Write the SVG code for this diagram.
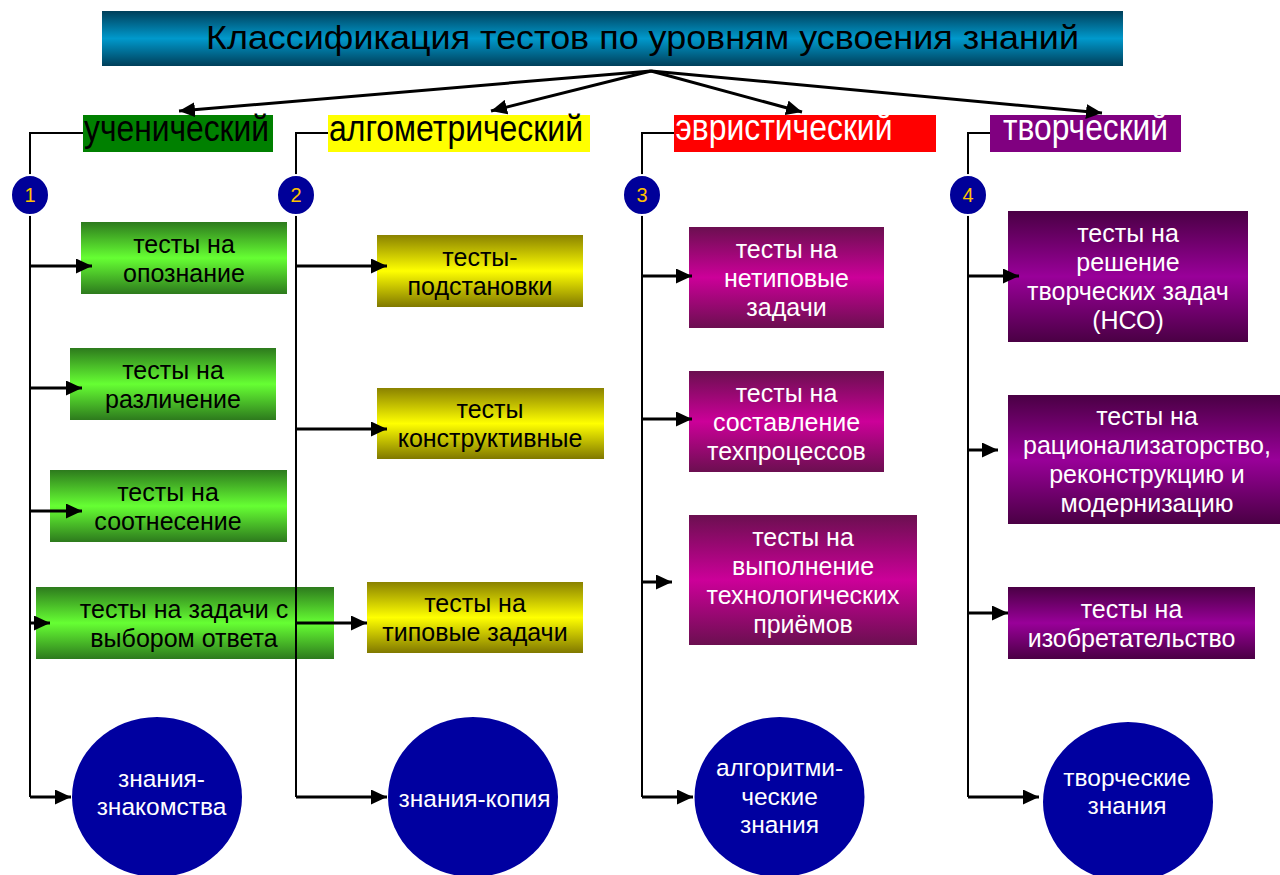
<svg xmlns="http://www.w3.org/2000/svg" width="1280" height="875" viewBox="0 0 1280 875">
<style>
  text { font-family: "Liberation Sans", Arial, sans-serif; }
  .bt { font-size: 25px; text-anchor: middle; }
  .dk { fill: #000; }
  .wh { fill: #fff; }
  .lbl { font-size: 37px; }
  .num { font-size: 20px; fill: #ffc000; text-anchor: middle; }
  .et { font-size: 24.5px; fill: #fff; text-anchor: middle; }
  .ln { stroke: #000; stroke-width: 2; fill: none; }
  .ar { stroke: #000; stroke-width: 3; fill: none; marker-end: url(#ah); }
  .nc { fill: #000099; stroke: #fff; stroke-width: 2; }
  .el { fill: #0000a0; }
</style>
<defs>
  <marker id="ah" markerUnits="userSpaceOnUse" markerWidth="16" markerHeight="15" refX="16" refY="7.5" orient="auto">
    <path d="M0,0 L16,7.5 L0,15 z" fill="#000"/>
  </marker>
  <linearGradient id="gT" x1="0" y1="0" x2="0" y2="1">
    <stop offset="0" stop-color="#003f5a"/><stop offset="0.5" stop-color="#0099cc"/><stop offset="1" stop-color="#003f5a"/>
  </linearGradient>
  <linearGradient id="gG" x1="0" y1="0" x2="0" y2="1">
    <stop offset="0" stop-color="#2d7a1d"/><stop offset="0.5" stop-color="#66ff33"/><stop offset="1" stop-color="#2d7a1d"/>
  </linearGradient>
  <linearGradient id="gY" x1="0" y1="0" x2="0" y2="1">
    <stop offset="0" stop-color="#8a8200"/><stop offset="0.5" stop-color="#ffff00"/><stop offset="1" stop-color="#807800"/>
  </linearGradient>
  <linearGradient id="gM" x1="0" y1="0" x2="0" y2="1">
    <stop offset="0" stop-color="#6b0f50"/><stop offset="0.5" stop-color="#cc0099"/><stop offset="1" stop-color="#6b0f50"/>
  </linearGradient>
  <linearGradient id="gP" x1="0" y1="0" x2="0" y2="1">
    <stop offset="0" stop-color="#4a0044"/><stop offset="0.5" stop-color="#990099"/><stop offset="1" stop-color="#4a0044"/>
  </linearGradient>
</defs>
<rect width="1280" height="875" fill="#fff"/>

<g id="title">
  <rect x="102" y="11" width="1021" height="55" fill="url(#gT)"/>
  <text x="206" y="49" font-size="34" textLength="873" lengthAdjust="spacingAndGlyphs" fill="#000">Классификация тестов по уровням усвоения знаний</text>
</g>

<g id="label-1">
  <rect x="83" y="115" width="190" height="37" fill="#008000"/>
  <text class="lbl dk" x="84" y="141" textLength="185" lengthAdjust="spacingAndGlyphs">ученический</text>
</g>
<g id="label-2">
  <rect x="328" y="115" width="262" height="37" fill="#ffff00"/>
  <text class="lbl dk" x="329" y="141" textLength="254" lengthAdjust="spacingAndGlyphs">алгометрический</text>
</g>
<g id="label-3">
  <rect x="674" y="115" width="262" height="37" fill="#ff0000"/>
  <text class="lbl wh" x="675.5" y="140" textLength="217" lengthAdjust="spacingAndGlyphs">эвристический</text>
</g>
<g id="label-4">
  <rect x="990" y="115" width="191" height="37" fill="#800080"/>
  <text class="lbl wh" x="1003" y="140" textLength="165" lengthAdjust="spacingAndGlyphs">творческий</text>
</g>

<!-- column 1 -->
<g id="b1-1">
  <rect x="81" y="222" width="206" height="72" fill="url(#gG)"/>
  <text class="bt dk"><tspan x="184" y="252.5">тесты на</tspan><tspan x="184" y="281.5">опознание</tspan></text>
</g>
<g id="b1-2">
  <rect x="70" y="348" width="206" height="72" fill="url(#gG)"/>
  <text class="bt dk"><tspan x="173" y="378.5">тесты на</tspan><tspan x="173" y="407.5">различение</tspan></text>
</g>
<g id="b1-3">
  <rect x="50" y="470" width="237" height="72" fill="url(#gG)"/>
  <text class="bt dk"><tspan x="168" y="500.5">тесты на</tspan><tspan x="168" y="529.5">соотнесение</tspan></text>
</g>
<g id="b1-4">
  <rect x="36" y="587" width="298" height="72" fill="url(#gG)"/>
  <text class="bt dk"><tspan x="184" y="617.5">тесты на задачи с</tspan><tspan x="184" y="646.5">выбором ответа</tspan></text>
</g>

<!-- column 2 -->
<g id="b2-1">
  <rect x="377" y="235" width="206" height="72" fill="url(#gY)"/>
  <text class="bt dk"><tspan x="480" y="265.5">тесты-</tspan><tspan x="480" y="294.5">подстановки</tspan></text>
</g>
<g id="b2-2">
  <rect x="377" y="388" width="227" height="71" fill="url(#gY)"/>
  <text class="bt dk"><tspan x="490" y="418">тесты</tspan><tspan x="490" y="447">конструктивные</tspan></text>
</g>
<g id="b2-3">
  <rect x="367" y="582" width="216" height="71" fill="url(#gY)"/>
  <text class="bt dk"><tspan x="475" y="612">тесты на</tspan><tspan x="475" y="641">типовые задачи</tspan></text>
</g>

<!-- column 3 -->
<g id="b3-1">
  <rect x="689" y="227" width="195" height="101" fill="url(#gM)"/>
  <text class="bt wh"><tspan x="786.5" y="257.5">тесты на</tspan><tspan x="786.5" y="286.5">нетиповые</tspan><tspan x="786.5" y="315.5">задачи</tspan></text>
</g>
<g id="b3-2">
  <rect x="689" y="371" width="195" height="101" fill="url(#gM)"/>
  <text class="bt wh"><tspan x="786.5" y="401.5">тесты на</tspan><tspan x="786.5" y="430.5">составление</tspan><tspan x="786.5" y="459.5">техпроцессов</tspan></text>
</g>
<g id="b3-3">
  <rect x="689" y="515" width="228" height="130" fill="url(#gM)"/>
  <text class="bt wh"><tspan x="803" y="545.5">тесты на</tspan><tspan x="803" y="574.5">выполнение</tspan><tspan x="803" y="603.5">технологических</tspan><tspan x="803" y="632.5">приёмов</tspan></text>
</g>

<!-- column 4 -->
<g id="b4-1">
  <rect x="1008" y="211" width="240" height="131" fill="url(#gP)"/>
  <text class="bt wh"><tspan x="1128" y="242">тесты на</tspan><tspan x="1128" y="271">решение</tspan><tspan x="1128" y="300">творческих задач</tspan><tspan x="1128" y="329">(НСО)</tspan></text>
</g>
<g id="b4-2">
  <rect x="1008" y="395" width="272" height="129" fill="url(#gP)"/>
  <text class="bt wh"><tspan x="1147" y="425">тесты на</tspan><tspan x="1147" y="454">рационализаторство,</tspan><tspan x="1147" y="483">реконструкцию и</tspan><tspan x="1147" y="512">модернизацию</tspan></text>
</g>
<g id="b4-3">
  <rect x="1008" y="587" width="247" height="72" fill="url(#gP)"/>
  <text class="bt wh"><tspan x="1131.5" y="617.5">тесты на</tspan><tspan x="1131.5" y="646.5">изобретательство</tspan></text>
</g>

<!-- knowledge ellipses -->
<g id="k1">
  <ellipse class="el" cx="157" cy="797" rx="85" ry="80"/>
  <text class="et"><tspan x="161.5" y="786.7">знания-</tspan><tspan x="161.5" y="815">знакомства</tspan></text>
</g>
<g id="k2">
  <ellipse class="el" cx="473" cy="797" rx="85" ry="80"/>
  <text class="et" x="474.5" y="806.7">знания-копия</text>
</g>
<g id="k3">
  <ellipse class="el" cx="779.5" cy="797" rx="85" ry="80"/>
  <text class="et"><tspan x="779.5" y="776">алгоритми-</tspan><tspan x="779.5" y="804.5">ческие</tspan><tspan x="779.5" y="833">знания</tspan></text>
</g>
<g id="k4">
  <ellipse class="el" cx="1128" cy="802" rx="85" ry="80"/>
  <text class="et"><tspan x="1127" y="785.7">творческие</tspan><tspan x="1127" y="814">знания</tspan></text>
</g>

<g id="connectors">
  <!-- title to categories -->
  <line class="ar" x1="651" y1="71" x2="179" y2="111"/>
  <line class="ar" x1="651" y1="71" x2="491" y2="111"/>
  <line class="ar" x1="651" y1="71" x2="802" y2="112"/>
  <line class="ar" x1="651" y1="71" x2="1102" y2="113"/>
  <!-- trunks -->
  <polyline class="ln" points="83,133 30,133 30,797"/>
  <polyline class="ln" points="328,133 296,133 296,797"/>
  <polyline class="ln" points="674,133 642,133 642,797"/>
  <polyline class="ln" points="990,133 968,133 968,797"/>
  <!-- column 1 branches -->
  <line class="ar" x1="30" y1="266" x2="92" y2="266"/>
  <line class="ar" x1="30" y1="388" x2="82" y2="388"/>
  <line class="ar" x1="30" y1="511" x2="82" y2="511"/>
  <line class="ar" x1="30" y1="623" x2="50" y2="623"/>
  <line class="ar" x1="30" y1="797" x2="71" y2="797"/>
  <!-- column 2 branches -->
  <line class="ar" x1="296" y1="266" x2="387" y2="266"/>
  <line class="ar" x1="296" y1="429" x2="387" y2="429"/>
  <line class="ar" x1="296" y1="623" x2="367" y2="623"/>
  <line class="ar" x1="296" y1="797" x2="387" y2="797"/>
  <!-- column 3 branches -->
  <line class="ar" x1="642" y1="276" x2="692" y2="276"/>
  <line class="ar" x1="642" y1="419" x2="692" y2="419"/>
  <line class="ar" x1="642" y1="582" x2="672" y2="582"/>
  <line class="ar" x1="642" y1="797" x2="693" y2="797"/>
  <!-- column 4 branches -->
  <line class="ar" x1="968" y1="276" x2="1019" y2="276"/>
  <line class="ar" x1="968" y1="450" x2="998" y2="450"/>
  <line class="ar" x1="968" y1="613" x2="1008" y2="613"/>
  <line class="ar" x1="968" y1="797" x2="1039" y2="797"/>
</g>

<g id="n1"><ellipse class="nc" cx="30" cy="195" rx="19" ry="20"/><text class="num" x="30" y="202">1</text></g>
<g id="n2"><ellipse class="nc" cx="296" cy="195" rx="19" ry="20"/><text class="num" x="296" y="202">2</text></g>
<g id="n3"><ellipse class="nc" cx="642" cy="195" rx="19" ry="20"/><text class="num" x="642" y="202">3</text></g>
<g id="n4"><ellipse class="nc" cx="968" cy="195" rx="19" ry="20"/><text class="num" x="968" y="202">4</text></g>
</svg>
